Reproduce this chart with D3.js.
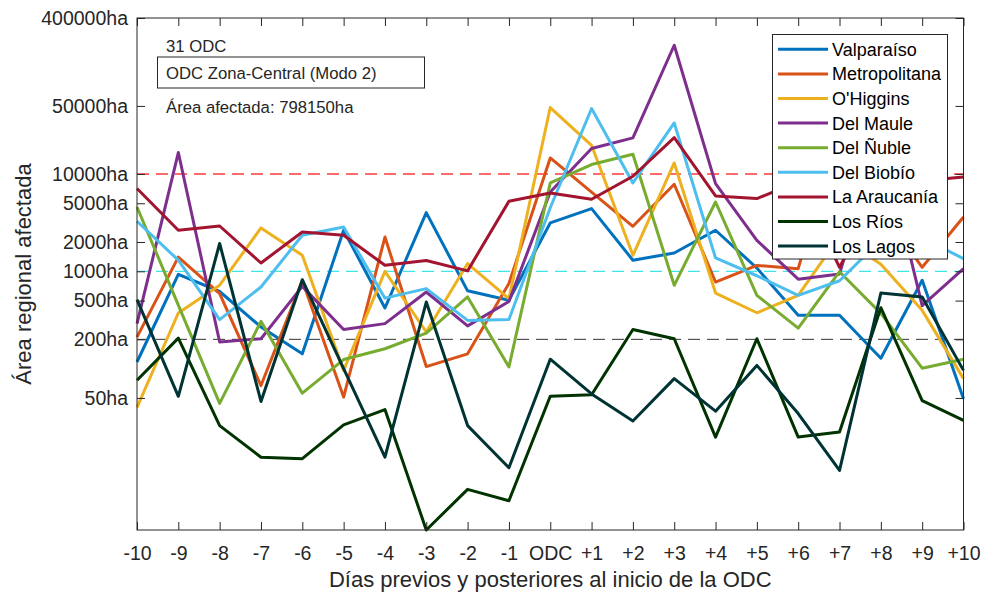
<!DOCTYPE html>
<html>
<head>
<meta charset="utf-8">
<script src="https://cdn.jsdelivr.net/npm/d3@7"></script>
<style>
  html, body { margin: 0; padding: 0; background: #fff; }
  svg text { font-family: "Liberation Sans", Arial, Helvetica, sans-serif; fill: #262626; }
</style>
</head>
<body>
<svg id="chart" width="982" height="594"></svg>
<script>
// Days relative to the start of the event (ODC)
const days = ["-10","-9","-8","-7","-6","-5","-4","-3","-2","-1","ODC",
              "+1","+2","+3","+4","+5","+6","+7","+8","+9","+10"];

// Affected area per region (ha)
const valparaiso   = [117, 930, 620, 268, 142, 2640, 420, 4010, 630, 505, 3140, 4410, 1300, 1540, 2640, 1080, 353, 353, 128, 810, 49];
const metropolitana = [211, 1400, 590, 67, 800, 51, 2250, 105, 142, 750, 14600, 6500, 2900, 7840, 776, 1150, 1065, 30000, 4300, 1100, 3610];
const ohiggins     = [40, 373, 720, 2790, 1460, 96, 1000, 238, 1200, 525, 48100, 19700, 1460, 12970, 598, 375, 566, 2290, 1180, 397, 79];
const delMaule     = [290, 16600, 188, 203, 700, 252, 290, 613, 275, 490, 6530, 18240, 23450, 210000, 7960, 2080, 830, 940, 25000, 445, 1065];
const delNuble     = [4580, 450, 44, 306, 56, 124, 160, 232, 545, 104, 8090, 12500, 15930, 718, 5150, 566, 261, 990, 370, 101, 125];
const delBiobio    = [3265, 1300, 319, 690, 2345, 2850, 530, 664, 313, 319, 4500, 47000, 8090, 33400, 1370, 900, 566, 800, 2100, 2200, 1350];
const laAraucania  = [7080, 2640, 2920, 1217, 2535, 2345, 1153, 1290, 1010, 5240, 6380, 5490, 9470, 23660, 5950, 5580, 8330, 1100, 6800, 8500, 9310];
const losRios      = [76, 206, 26, 12.3, 11.9, 26.5, 38, 2.2, 5.75, 4.4, 52, 54, 252, 203, 19.8, 203, 19.8, 22.3, 423, 47, 29.4];
const losLagos     = [512, 52, 1930, 46, 820, 100, 12.3, 483, 26, 9.6, 125, 55, 29, 79, 36.6, 108, 34.6, 9.0, 598, 545, 96];

const regionNames = ["Valparaíso","Metropolitana","O'Higgins","Del Maule","Del Ñuble",
                     "Del Biobío","La Araucanía","Los Ríos","Los Lagos"];
const regionValues = [valparaiso, metropolitana, ohiggins, delMaule, delNuble,
                      delBiobio, laAraucania, losRios, losLagos];
const regionColors = ["#0072BD","#D95319","#EDB120","#7E2F8E","#77AC30",
                      "#4DBEEE","#A2142F","#003300","#003333"];

// Axis ticks
const yTicks = [50, 200, 500, 1000, 2000, 5000, 10000, 50000, 400000];
const yMax = 400000;

// Threshold lines
const thresholds = [10000, 1000, 200];
const thresholdColors = ["#FF6B6B", "#40E6E6", "#333333"];
const thresholdWidths = [2, 1.2, 1];

// Annotations
const eventCount = "31 ODC";
const eventTitle = "ODC Zona-Central (Modo 2)";
const totalArea = "Área afectada: 798150ha";
const xLabel = "Días previos y posteriores al inicio de la ODC";
const yLabel = "Área regional afectada";

const svg = d3.select("#chart");
const plotLeft = 137, plotRight = 963.5, plotTop = 18, plotBottom = 530;

const x = d3.scalePoint().domain(days).range([plotLeft, plotRight]).padding(0);
const yMin = d3.min(regionValues.flat());
const y = d3.scaleLog().domain([yMin, yMax]).range([plotBottom, plotTop]);

const axisColor = "#262626";

// Threshold dashed lines (beneath the data)
const thrG = svg.append("g");
thresholds.forEach((t, i) => {
  thrG.append("line")
    .attr("x1", plotLeft).attr("x2", plotRight)
    .attr("y1", y(t)).attr("y2", y(t))
    .attr("stroke", thresholdColors[i])
    .attr("stroke-width", thresholdWidths[i])
    .attr("stroke-dasharray", "12,7");
});

// Region lines
const line = d3.line().x((d, i) => x(days[i])).y(d => y(d));
const linesG = svg.append("g");
regionValues.forEach((vals, k) => {
  linesG.append("path")
    .datum(vals)
    .attr("d", line)
    .attr("fill", "none")
    .attr("stroke", regionColors[k])
    .attr("stroke-width", 3)
    .attr("stroke-linejoin", "round");
});

// Axes (inward ticks, boxed)
const fontTick = "19.5px";
const yAxis = d3.axisLeft(y).tickValues(yTicks).tickFormat(d => d + "ha")
  .tickSizeInner(-8).tickSizeOuter(0).tickPadding(9);
const gy = svg.append("g").attr("transform", `translate(${plotLeft},0)`).call(yAxis);
gy.select(".domain").remove();
gy.selectAll("line").attr("stroke", axisColor);
gy.selectAll("text").style("font-size", fontTick).attr("fill", axisColor);

const yAxisR = d3.axisRight(y).tickValues(yTicks).tickFormat("")
  .tickSizeInner(-8).tickSizeOuter(0);
const gyr = svg.append("g").attr("transform", `translate(${plotRight},0)`).call(yAxisR);
gyr.select(".domain").remove();
gyr.selectAll("line").attr("stroke", axisColor);

const xAxis = d3.axisBottom(x).tickSizeInner(-8).tickSizeOuter(0).tickPadding(16);
const gx = svg.append("g").attr("transform", `translate(0,${plotBottom})`).call(xAxis);
gx.select(".domain").remove();
gx.selectAll("line").attr("stroke", axisColor);
gx.selectAll("text").style("font-size", fontTick).attr("fill", axisColor);

const xAxisT = d3.axisTop(x).tickFormat("").tickSizeInner(-8).tickSizeOuter(0);
const gxt = svg.append("g").attr("transform", `translate(0,${plotTop})`).call(xAxisT);
gxt.select(".domain").remove();
gxt.selectAll("line").attr("stroke", axisColor);

svg.append("rect")
  .attr("x", plotLeft).attr("y", plotTop)
  .attr("width", plotRight - plotLeft).attr("height", plotBottom - plotTop)
  .attr("fill", "none").attr("stroke", axisColor).attr("stroke-width", 1);

// Axis titles
svg.append("text")
  .attr("x", (plotLeft + plotRight) / 2).attr("y", 587)
  .attr("text-anchor", "middle")
  .style("font-size", "22px")
  .text(xLabel);

svg.append("text")
  .attr("transform", `translate(31,${(plotTop + plotBottom) / 2}) rotate(-90)`)
  .attr("text-anchor", "middle")
  .style("font-size", "22px")
  .text(yLabel);

// Annotations
svg.append("text").attr("x", 166).attr("y", 51.5).style("font-size", "16.7px").text(eventCount);
svg.append("rect")
  .attr("x", 157.5).attr("y", 57).attr("width", 267).attr("height", 31)
  .attr("fill", "#fff").attr("stroke", axisColor).attr("stroke-width", 1);
svg.append("text").attr("x", 166).attr("y", 79).style("font-size", "16.7px").text(eventTitle);
svg.append("text").attr("x", 166).attr("y", 113).style("font-size", "16.7px").text(totalArea);

// Legend
const lg = svg.append("g");
lg.append("rect")
  .attr("x", 772.5).attr("y", 34.5).attr("width", 175).attr("height", 224.5)
  .attr("fill", "#fff").attr("stroke", axisColor).attr("stroke-width", 1);
regionNames.forEach((name, k) => {
  const cy = 49.3 + k * 24.6;
  lg.append("line")
    .attr("x1", 778).attr("x2", 828).attr("y1", cy).attr("y2", cy)
    .attr("stroke", regionColors[k]).attr("stroke-width", 3);
  lg.append("text")
    .attr("x", 832).attr("y", cy).attr("dy", "0.36em")
    .style("font-size", "18px")
    .style("fill", "#000")
    .text(name);
});
</script>
</body>
</html>
